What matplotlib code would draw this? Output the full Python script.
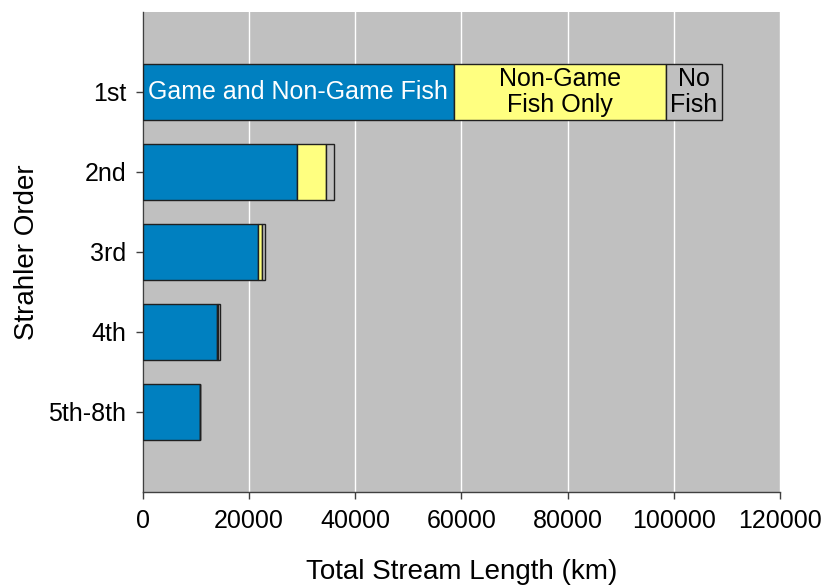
import numpy as np
import matplotlib as mpl
import matplotlib.pyplot as plt

mpl.rcParams["font.family"] = ["Liberation Sans", "DejaVu Sans"]

orders = ["1st", "2nd", "3rd", "4th", "5th-8th"]
game_and_nongame = [58500, 29100, 21600, 14000, 10650]
nongame_only = [40000, 5400, 800, 150, 50]
no_fish = [10500, 1500, 600, 450, 100]
series_labels = ["Game and Non-Game Fish", "Non-Game\nFish Only", "No\nFish"]
xticks = [0, 20000, 40000, 60000, 80000, 100000, 120000]

colors = ["#0080C0", "#FFFF80", "#C0C0C0"]
text_colors = ["white", "black", "black"]

fig = plt.figure(figsize=(8.24, 5.88), dpi=100)
ax = fig.add_axes([0.1735, 0.1633, 0.7731, 0.8163])
ax.set_facecolor("#C0C0C0")

y = np.arange(len(orders))
left = np.zeros(len(orders))
for vals, col in zip([game_and_nongame, nongame_only, no_fish], colors):
    ax.barh(y, vals, left=left, height=0.7, color=col, edgecolor="#202020",
            linewidth=1, zorder=3)
    left = left + np.array(vals)

# labels inside the first bar
left0 = 0
for vals, lab, tc in zip([game_and_nongame, nongame_only, no_fish], series_labels, text_colors):
    ax.text(left0 + vals[0] / 2, y[0], lab, ha="center", va="center",
            color=tc, fontsize=18, linespacing=1.15, zorder=4)
    left0 += vals[0]

ax.set_xlim(0, 120000)
ax.set_ylim(len(orders), -1)
ax.set_xticks(xticks)
ax.set_xticklabels([str(v) for v in xticks])
ax.set_yticks(y)
ax.set_yticklabels(orders)
ax.xaxis.grid(True, color="white", linewidth=1, zorder=0)
ax.set_axisbelow(True)

for s in ["top", "right"]:
    ax.spines[s].set_visible(False)
for s in ["left", "bottom"]:
    ax.spines[s].set_color("#404040")
    ax.spines[s].set_linewidth(1)

ax.tick_params(axis="x", length=5, width=1, color="#404040", labelsize=18, pad=7)
ax.tick_params(axis="y", length=5, width=1, color="#404040", labelsize=18, pad=7)

ax.set_xlabel("Total Stream Length (km)", fontsize=20, labelpad=19)
ax.set_ylabel("Strahler Order", fontsize=20, labelpad=6)

fig.savefig("out.png", dpi=100)
